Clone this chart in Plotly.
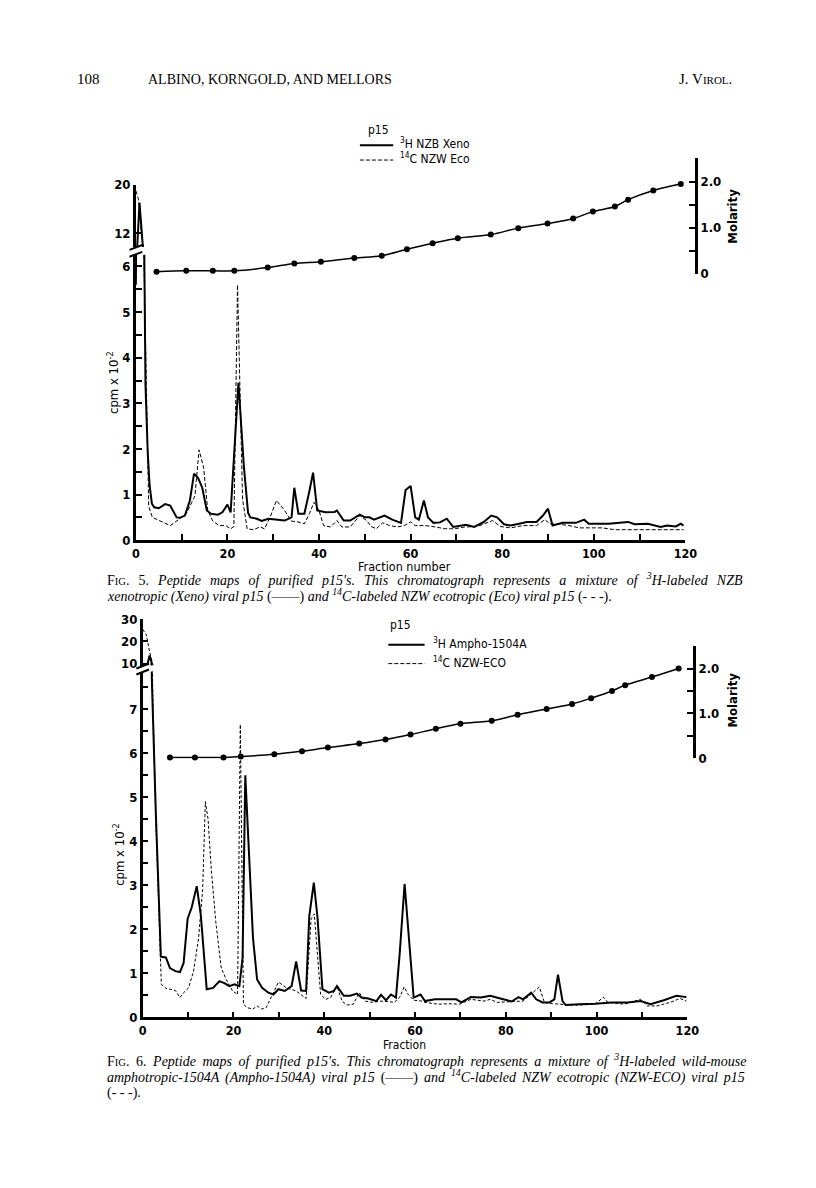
import plotly.graph_objects as go

# ---- Fig. 5 : 3H NZB Xeno (solid) / 14C NZW Eco (dashed), cpm x 10^-2 ----
f5_xeno_frac = [0, 0.8, 1.5, 2.1, 2.6, 3.0, 3.5, 4, 5, 6.4, 7.5, 8.9, 9.6, 10.7, 11.8, 12.7, 13.6, 14.5,
                15.5, 16.4, 17.9, 18.9, 20, 20.7, 22.4, 23.6, 24.5, 25, 26.4, 27.5, 28.9, 30.7, 32.5, 34,
                34.6, 35.5, 36.8, 37.9, 38.7, 39.6, 41.4, 43.4, 43.9, 45.4, 46.8, 48.9, 50, 51, 52, 54.3,
                56, 57.9, 58.9, 60, 61, 61.8, 62.9, 63.8, 65, 66.4, 67.9, 69.3, 70.7, 72.1, 73.9, 76,
                77.6, 78.9, 80.4, 81.8, 83.2, 85.4, 87.5, 88.9, 90, 91, 93.2, 96.1, 97.9, 98.9, 101,
                103.2, 107.5, 108.9, 111.8, 114.6, 116, 117.9, 119, 119.6]
f5_xeno_cpm = [5.6, 17.0, 10.0, 3.4, 1.9, 1.2, 0.8, 0.72, 0.70, 0.79, 0.76, 0.50, 0.49, 0.54, 0.87, 1.46,
               1.36, 1.15, 0.65, 0.58, 0.56, 0.61, 0.78, 0.61, 3.45, 1.6, 0.6, 0.50, 0.47, 0.42, 0.47,
               0.45, 0.43, 0.50, 1.15, 0.58, 0.58, 1.08, 1.48, 0.65, 0.61, 0.62, 0.65, 0.43, 0.43, 0.56,
               0.50, 0.50, 0.45, 0.54, 0.45, 0.38, 1.10, 1.19, 0.50, 0.45, 0.87, 0.50, 0.38, 0.39, 0.47,
               0.29, 0.32, 0.34, 0.29, 0.40, 0.54, 0.50, 0.35, 0.32, 0.35, 0.40, 0.40, 0.54, 0.69, 0.32,
               0.38, 0.38, 0.45, 0.36, 0.36, 0.36, 0.40, 0.35, 0.36, 0.29, 0.32, 0.30, 0.36, 0.32]

f5_eco_frac = [0, 0.6, 1.2, 1.8, 2.4, 2.8, 3.6, 5.4, 7.5, 9.6, 11, 12.9, 13.8, 14.8, 15.7, 16.8, 18.2,
               19.6, 20.7, 21.4, 22.2, 23.3, 24.3, 25.7, 27.1, 28.1, 29.3, 30.7, 32.5, 33.9, 35.4, 36.8,
               37.9, 38.9, 40, 41, 42.5, 43.9, 45, 46.8, 48.9, 50.4, 51.4, 52.5, 53.9, 55.4, 57.1, 58.6,
               60, 61, 63.2, 65.4, 67.5, 69.6, 71.8, 74.6, 76.8, 77.9, 79.6, 81.8, 84.6, 87.5, 89.3,
               90.4, 92.5, 94.6, 96.8, 98.9, 101.8, 104.6, 108.9, 113.2, 116, 119.6]
f5_eco_cpm = [19.0, 17.5, 12.0, 6.0, 2.5, 0.75, 0.50, 0.42, 0.32, 0.47, 0.58, 0.97, 1.98, 1.59, 0.65, 0.42,
              0.32, 0.32, 0.25, 0.30, 5.6, 0.9, 0.25, 0.23, 0.29, 0.25, 0.50, 0.87, 0.65, 0.42, 0.40,
              0.36, 0.58, 0.83, 0.65, 0.32, 0.29, 0.43, 0.29, 0.29, 0.54, 0.43, 0.30, 0.25, 0.38, 0.32,
              0.29, 0.32, 0.40, 0.32, 0.32, 0.29, 0.25, 0.25, 0.29, 0.30, 0.38, 0.43, 0.30, 0.27, 0.32,
              0.32, 0.45, 0.36, 0.35, 0.32, 0.27, 0.27, 0.27, 0.23, 0.23, 0.23, 0.23, 0.23]

f5_mol_frac = [4.5, 11, 16.8, 21.5, 28.8, 34.6, 40.4, 47.7, 53.7, 59.2, 64.8, 70.3, 77.5, 83.5, 89.9,
               95.5, 99.8, 104.6, 107.5, 113, 119]
f5_molarity = [0.04, 0.06, 0.06, 0.06, 0.13, 0.22, 0.26, 0.34, 0.39, 0.53, 0.66, 0.77, 0.85, 0.99, 1.09,
               1.20, 1.35, 1.46, 1.61, 1.81, 1.95]

# ---- Fig. 6 : 3H Ampho-1504A (solid) / 14C NZW-ECO (dashed) ----
f6_ampho_frac = [1.0, 1.5, 1.9, 2.0, 2.9, 4.0, 5.1, 6.0, 7.2, 8.2, 9.0, 9.9, 10.8, 11.9, 12.8, 14.1, 15.5,
                 16.9, 18.0, 19.1, 20.2, 21.3, 22.0, 22.6, 23.3, 24.3, 25.2, 26.3, 27.7, 28.8, 29.9, 31.3,
                 32.8, 33.8, 34.9, 36.0, 36.7, 37.7, 38.5, 39.6, 41.0, 42.1, 42.8, 44.3, 45.7, 47.2, 48.2,
                 49.7, 51.5, 52.5, 53.6, 54.7, 55.8, 56.6, 57.7, 58.7, 59.7, 61.2, 62.2, 64.4, 67.3, 69.1,
                 70.2, 72.3, 74.5, 76.6, 78.8, 81.3, 82.8, 83.8, 85.6, 86.7, 88.1, 89.6, 90.7, 91.5, 92.5,
                 93.2, 96.1, 99.7, 103.3, 106.9, 109.7, 111.9, 114.8, 117.6, 119.8]
f6_ampho_cpm = [9.3, 13.6, 11.0, 7.7, 4.6, 1.38, 1.36, 1.12, 1.05, 1.03, 1.23, 2.24, 2.5, 2.98, 2.32, 0.64,
                0.67, 0.82, 0.78, 0.71, 0.75, 0.71, 1.35, 5.5, 4.0, 1.8, 0.86, 0.67, 0.56, 0.52, 0.64, 0.60,
                0.71, 1.27, 0.61, 0.60, 2.3, 3.06, 2.28, 0.64, 0.56, 0.60, 0.71, 0.49, 0.49, 0.54, 0.45,
                0.43, 0.37, 0.51, 0.39, 0.52, 0.45, 1.42, 3.03, 1.64, 0.45, 0.52, 0.37, 0.41, 0.41, 0.41,
                0.34, 0.46, 0.45, 0.49, 0.43, 0.36, 0.46, 0.41, 0.56, 0.41, 0.34, 0.34, 0.41, 0.97, 0.37,
                0.28, 0.30, 0.31, 0.34, 0.34, 0.37, 0.30, 0.39, 0.49, 0.46]

f6_eco_frac = [0.0, 0.8, 1.5, 2.2, 2.9, 3.9, 4.1, 5.1, 6.2, 7.2, 8.2, 9.0, 10.1, 11.2, 12.3, 13.2, 13.8,
               14.4, 15.1, 16.1, 17.3, 18.4, 19.8, 20.9, 21.5, 22.2, 23.0, 24.3, 25.2, 26.2, 27.2, 28.5,
               29.9, 31.7, 33.8, 36.0, 37.1, 37.8, 38.5, 39.2, 40.3, 41.4, 42.8, 43.9, 45.0, 46.4, 47.7,
               49.0, 50.7, 52.2, 54.0, 55.4, 56.6, 57.6, 58.5, 59.7, 61.5, 62.2, 65.1, 67.3, 69.8, 72.3,
               75.2, 76.6, 78.1, 80.2, 81.7, 83.8, 85.6, 87.4, 88.5, 90.3, 92.1, 93.2, 96.1, 99.7, 101.5,
               102.5, 106.1, 109.7, 111.2, 113.3, 116.2, 118.4, 119.8]
f6_eco_cpm = [25.4, 23.0, 15.4, 7.4, 4.4, 0.93, 0.75, 0.66, 0.64, 0.61, 0.45, 0.56, 0.67, 1.05, 1.79, 2.9,
              4.9, 4.5, 3.36, 2.17, 1.12, 0.86, 0.60, 0.52, 6.65, 0.30, 0.22, 0.19, 0.26, 0.19, 0.22, 0.49,
              0.80, 0.67, 0.60, 0.43, 2.24, 2.35, 1.42, 0.52, 0.41, 0.45, 0.71, 0.37, 0.28, 0.30, 0.56,
              0.37, 0.34, 0.37, 0.36, 0.34, 0.45, 0.69, 0.52, 0.39, 0.37, 0.34, 0.30, 0.31, 0.30, 0.41,
              0.37, 0.41, 0.34, 0.36, 0.36, 0.37, 0.52, 0.69, 0.34, 0.31, 0.30, 0.28, 0.28, 0.30, 0.46,
              0.34, 0.30, 0.41, 0.26, 0.26, 0.34, 0.43, 0.37]

f6_mol_frac = [6.0, 11.5, 17.8, 21.6, 29.0, 35.1, 40.8, 47.7, 53.5, 59.0, 64.6, 70.0, 76.9, 82.6, 89.0,
               94.6, 98.8, 103.4, 106.3, 112.2, 118.1]
f6_molarity = [0.02, 0.02, 0.02, 0.04, 0.09, 0.16, 0.24, 0.33, 0.42, 0.53, 0.66, 0.77, 0.84, 0.97, 1.10,
               1.21, 1.34, 1.50, 1.63, 1.81, 2.00]

# tick labels
frac_ticks = list(range(0, 121, 10))
frac_labels = [str(v) if v % 20 == 0 else "" for v in frac_ticks]
cpm_ticks = [v / 2 for v in range(0, 16)]
cpm_labels = [str(int(v)) if v == int(v) else "" for v in cpm_ticks]
f5_upper_ticks = [12, 20]
f6_upper_ticks = [10, 20, 30]
mol_ticks = [0, 0.5, 1.0, 1.5, 2.0, 2.5]
mol_labels = ["0", "", "1.0", "", "2.0", ""]

W, H = 816, 1188
AXFONT = "Liberation Sans Narrow, DejaVu Sans Condensed, Arial Narrow, sans-serif"
SERIF = "Liberation Serif, Times New Roman, serif"


def px(x):
    return x / W


def py(y):
    return 1 - y / H


fig = go.Figure()


def add_pair(frac, vals, xa, ya_lo, ya_hi, dash, width):
    # same series on the lower and on the upper (broken) part of the cpm axis
    line = dict(color="black", width=width, dash=dash)
    for ya in (ya_lo, ya_hi):
        fig.add_trace(go.Scatter(x=frac, y=vals, xaxis=xa, yaxis=ya, mode="lines", line=line,
                                 showlegend=False))


def add_molarity(frac, vals, xa, ya):
    fig.add_trace(go.Scatter(x=frac, y=vals, xaxis=xa, yaxis=ya, mode="lines+markers",
                             line=dict(color="black", width=1.5, shape="spline"),
                             marker=dict(color="black", size=6), cliponaxis=False, showlegend=False))


SOLID, DASH = "solid", "4px,2px"
add_pair(f5_xeno_frac, f5_xeno_cpm, "x", "y", "y2", SOLID, 2)
add_pair(f5_eco_frac, f5_eco_cpm, "x", "y", "y2", DASH, 1)
add_molarity(f5_mol_frac, f5_molarity, "x", "y3")
add_pair(f6_ampho_frac, f6_ampho_cpm, "x2", "y4", "y5", SOLID, 2)
add_pair(f6_eco_frac, f6_eco_cpm, "x2", "y4", "y5", "3px,2px", 1)
add_molarity(f6_mol_frac, f6_molarity, "x2", "y6")

axcommon = dict(showgrid=False, zeroline=False, showline=True, linecolor="black", linewidth=2.5,
                ticks="inside", tickcolor="black", tickwidth=2, ticklen=6,
                tickfont=dict(family=AXFONT, size=13, color="black", weight="bold"))
xcommon = dict(axcommon, tickfont=dict(family=AXFONT, size=12.5, color="black", weight="bold"))

fig.update_layout(
    width=W, height=H, margin=dict(l=0, r=0, t=0, b=0), autosize=False,
    paper_bgcolor="white", plot_bgcolor="rgba(0,0,0,0)",
    xaxis=dict(domain=[px(134.5), px(695)], range=[0, 120], anchor="y",
               tickvals=frac_ticks, ticktext=frac_labels, **xcommon),
    yaxis=dict(domain=[py(540), py(251)], range=[0, 289 / 46.2], anchor="x",
               tickvals=cpm_ticks, ticktext=cpm_labels, **axcommon),
    yaxis2=dict(domain=[py(243), py(180)], range=[20 - 63 / 6.125, 20], anchor="x",
                tickvals=f5_upper_ticks, **axcommon),
    yaxis3=dict(domain=[py(270), py(153)], range=[0, 117 / 46.5], anchor="free", position=px(706),
                side="right", tickvals=mol_ticks, ticktext=mol_labels, **axcommon),
    xaxis2=dict(domain=[px(141.5), px(697)], range=[0, 120], anchor="y4",
                tickvals=frac_ticks, ticktext=frac_labels, **xcommon),
    yaxis4=dict(domain=[py(1023.3), py(673)], range=[0, 350.3 / 44.6], anchor="x2",
                tickvals=cpm_ticks, ticktext=cpm_labels, **axcommon),
    yaxis5=dict(domain=[py(667), py(620)], range=[30 - 47 / 2.25, 30], anchor="x2",
                tickvals=f6_upper_ticks, **axcommon),
    yaxis6=dict(domain=[py(761), py(647)], range=[0, 114 / 45.5], anchor="free", position=px(704),
                side="right", tickvals=mol_ticks, ticktext=mol_labels, **axcommon),
)

ann = []


def text(x, y, s, size=13, family=AXFONT, angle=0, xanchor="center"):
    ann.append(dict(x=px(x), y=py(y), xref="paper", yref="paper", text=s, showarrow=False,
                    textangle=angle, xanchor=xanchor, yanchor="middle",
                    font=dict(family=family, size=size, color="black")))


def caption(y, s, spacing):
    # justified caption line: widen word gaps
    text(103, y, "<span style='word-spacing:%.1fpx'>%s</span>" % (spacing, s), size=14,
         family=SERIF, xanchor="left")


SC = "<span style='font-size:10.5px'>IG</span>"

# page header
text(72, 73, "108", size=15, family=SERIF, xanchor="left")
text(145, 73, "ALBINO, KORNGOLD, AND MELLORS", size=14, family=SERIF, xanchor="left")
text(745, 73, "J. V<span style='font-size:11px'>IROL</span>.", size=15, family=SERIF, xanchor="right")

# legends (key lines are drawn as shapes below)
text(369, 125, "p15", size=12, xanchor="left")
text(402, 138, "<sup>3</sup>H NZB Xeno", size=12, xanchor="left")
text(402, 153, "<sup>14</sup>C NZW Eco", size=12, xanchor="left")
text(392, 626, "p15", size=12, xanchor="left")
text(436, 644, "<sup>3</sup>H Ampho-1504A", size=12, xanchor="left")
text(436, 663, "<sup>14</sup>C NZW-ECO", size=12, xanchor="left")

# fig 5 labels
text(111, 380, "cpm x 10<sup>-2</sup>", angle=-90)
text(743, 212, "<b>Molarity</b>", angle=-90)
text(408, 567, "Fraction number", size=12.5)
caption(579, "F" + SC + ". 5. <i>Peptide maps of purified p15's. This chromatograph represents a "
        "mixture of <sup>3</sup>H-labeled NZB</i>", 5.6)
caption(596, "<i>xenotropic (Xeno) viral p15</i> (——) <i>and <sup>14</sup>C-labeled NZW ecotropic "
        "(Eco) viral p15</i> (- - -).", 0)

# fig 6 labels
text(117, 858, "cpm x 10<sup>-2</sup>", angle=-90)
text(743, 702, "<b>Molarity</b>", angle=-90)
text(408, 1051, "Fraction", size=12)
caption(1066, "F" + SC + ". 6. <i>Peptide maps of purified p15's. This chromatograph represents a "
        "mixture of <sup>3</sup>H-labeled wild-mouse</i>", 3.1)
caption(1083, "<i>amphotropic-1504A (Ampho-1504A) viral p15</i> (——) <i>and <sup>14</sup>C-labeled NZW "
        "ecotropic (NZW-ECO) viral p15</i>", 2.5)
caption(1100, "(- - -).", 0)

fig.update_layout(annotations=ann)

brk = dict(type="line", xref="paper", yref="paper", line=dict(color="black", width=2))
key = dict(type="line", xref="paper", yref="paper", line=dict(color="black", width=2))
keyd = dict(type="line", xref="paper", yref="paper", line=dict(color="black", width=1, dash="4px,2px"))
fig.update_layout(shapes=[
    # axis break marks
    dict(brk, x0=px(128), y0=py(246), x1=px(141), y1=py(241)),
    dict(brk, x0=px(128), y0=py(253), x1=px(141), y1=py(248)),
    dict(brk, x0=px(135), y0=py(670), x1=px(148), y1=py(665)),
    dict(brk, x0=px(135), y0=py(676), x1=px(148), y1=py(671)),
    # legend keys
    dict(key, x0=px(363), y0=py(140), x1=px(397), y1=py(140)),
    dict(keyd, x0=px(363), y0=py(155), x1=px(397), y1=py(155)),
    dict(key, x0=px(392), y0=py(646), x1=px(429), y1=py(646)),
    dict(keyd, x0=px(392), y0=py(665), x1=px(429), y1=py(665)),
])

fig.write_html("out.html", config={"displayModeBar": False},
               post_script="document.body.style.margin='0';")
